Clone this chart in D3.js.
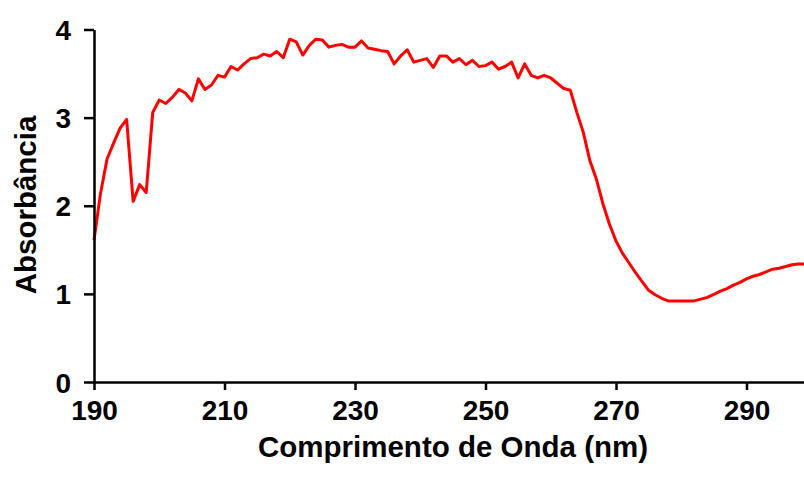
<!DOCTYPE html>
<html>
<head>
<meta charset="utf-8">
<script src="https://cdn.jsdelivr.net/npm/d3@7"></script>
<style>
  html, body { margin: 0; padding: 0; background: #fff; }
  svg { display: block; }
  text { font-family: "Liberation Sans", Arial, sans-serif; font-weight: bold; fill: #000; }
</style>
</head>
<body>
<svg id="chart" width="804" height="491"></svg>
<script>
// UV absorption spectrum, one reading per nanometre
const wavelengths = d3.range(190, 300);
const absorbance = [
  1.61, 2.14, 2.53, 2.71, 2.88, 2.98, 2.05, 2.24, 2.15, 3.06,
  3.20, 3.16, 3.23, 3.32, 3.28, 3.19, 3.44, 3.32, 3.37, 3.48,
  3.46, 3.58, 3.54, 3.61, 3.67, 3.68, 3.72, 3.70, 3.75, 3.68,
  3.89, 3.86, 3.71, 3.82, 3.89, 3.88, 3.80, 3.82, 3.83, 3.80,
  3.80, 3.87, 3.79, 3.775, 3.76, 3.75, 3.61, 3.70, 3.77, 3.63,
  3.65, 3.67, 3.57, 3.70, 3.70, 3.63, 3.67, 3.60, 3.65, 3.58,
  3.59, 3.63, 3.55, 3.58, 3.63, 3.45, 3.61, 3.48, 3.45, 3.48,
  3.45, 3.39, 3.33, 3.31, 3.06, 2.83, 2.51, 2.30, 2.02, 1.79,
  1.60, 1.46, 1.35, 1.24, 1.14, 1.04, 0.99, 0.95, 0.92, 0.92,
  0.92, 0.92, 0.92, 0.94, 0.96, 0.995, 1.03, 1.06, 1.10, 1.13,
  1.17, 1.20, 1.22, 1.25, 1.28, 1.29, 1.31, 1.33, 1.34, 1.34
];
const xTicks = [190, 210, 230, 250, 270, 290];
const yTicks = [0, 1, 2, 3, 4];

const svg = d3.select("#chart");
const plotLeft = 94, plotRight = 811.75, plotTop = 29.5, plotBottom = 382;

const x = d3.scaleLinear().domain([190, 300]).range([plotLeft, plotRight]);
const y = d3.scaleLinear().domain([0, 4]).range([plotBottom, plotTop]);

const points = wavelengths.map((w, i) => [w, absorbance[i]]);

// spectrum trace
svg.append("path")
  .datum(points)
  .attr("fill", "none")
  .attr("stroke", "#ff0000")
  .attr("stroke-width", 3)
  .attr("stroke-linejoin", "round")
  .attr("d", d3.line().x(d => x(d[0])).y(d => y(d[1])));

// x axis
const gx = svg.append("g")
  .attr("transform", `translate(0,${plotBottom})`)
  .call(d3.axisBottom(x).tickValues(xTicks).tickFormat(d3.format("d"))
    .tickSize(8).tickSizeOuter(0).tickPadding(10));

// y axis
const gy = svg.append("g")
  .attr("transform", `translate(${plotLeft},0)`)
  .call(d3.axisLeft(y).tickValues(yTicks).tickFormat(d3.format("d"))
    .tickSize(10).tickSizeOuter(0).tickPadding(13));

[gx, gy].forEach(g => {
  g.select(".domain").attr("stroke", "#000").attr("stroke-width", 2.5);
  g.selectAll(".tick line").attr("stroke", "#000").attr("stroke-width", 2.5);
  g.selectAll(".tick text")
    .attr("font-family", '"Liberation Sans", Arial, sans-serif')
    .attr("font-weight", "bold")
    .attr("font-size", 28)
    .attr("fill", "#000");
});
gy.selectAll(".tick text").attr("dy", "0.36em");

// axis titles
svg.append("text")
  .attr("x", 453)
  .attr("y", 457)
  .attr("text-anchor", "middle")
  .attr("font-size", 29.5)
  .text("Comprimento de Onda (nm)");

svg.append("text")
  .attr("transform", "translate(36,205) rotate(-90)")
  .attr("text-anchor", "middle")
  .attr("font-size", 29.5)
  .text("Absorbância");
</script>
</body>
</html>
